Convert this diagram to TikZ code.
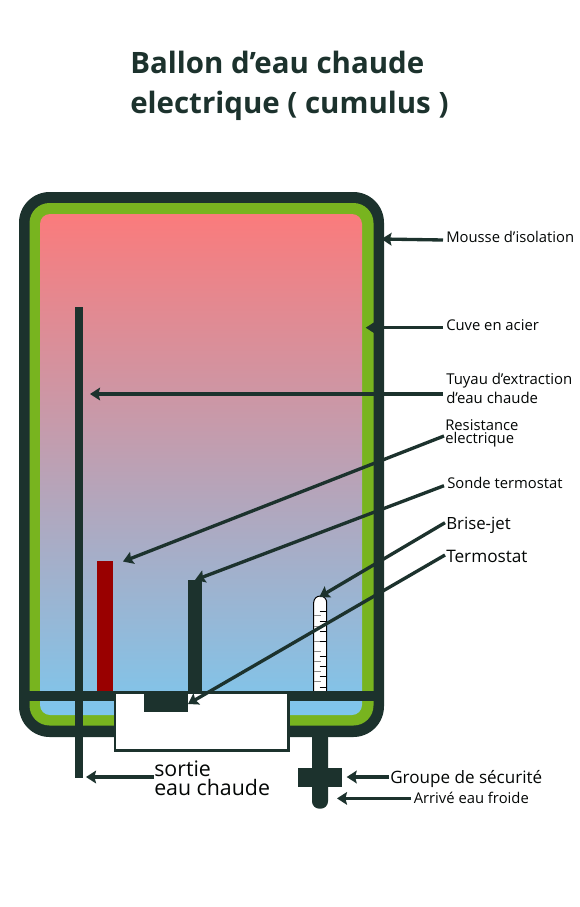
\documentclass[tikz,border=0pt]{standalone}
\usepackage{fontspec}
\setmainfont{Open Sans}
\usetikzlibrary{arrows.meta}
\definecolor{wall}{HTML}{1C322D}
\definecolor{foam}{HTML}{78B41F}
\definecolor{hot}{HTML}{FA7B7C}
\definecolor{cold}{HTML}{7EC6EC}
\definecolor{heater}{HTML}{990000}
\newcommand{\fs}[2]{\fontsize{#1}{#2}\selectfont}
\tikzset{
  x=0.75pt, y=-0.75pt,
  callout/.style={wall, line width=2.5pt, -{Stealth[length=7.5pt,width=9.5pt,inset=1.2pt]}},
  caption/.style={anchor=west, inner sep=0pt, align=left, text=black!88!wall},
  tick l/.style={draw=black!45, line width=0.75pt},
  tick r/.style={draw=black, line width=0.75pt},
}
\begin{document}
\begin{tikzpicture}
\useasboundingbox (0,0) rectangle (580,907);
\fill[white] (0,0) rectangle (580,907);

% Title
\node[caption, text=wall, font=\fs{22.1}{30}\bfseries] (title) at (130,86)
  {Ballon d’eau chaude\\electrique ( cumulus )};

% Tank shell, insulation and water body
\fill[wall, rounded corners=23pt] (19,192) rectangle (384,737);
\fill[foam, rounded corners=15pt] (29.5,203) rectangle (373.5,725.5);
\shade[top color=hot, bottom color=cold, rounded corners=7.5pt] (40,214) rectangle (362,715);

% Heating element
\fill[heater] (97.3,561) rectangle (113,692);

% Graduated jet breaker
\path[fill=white, draw=black, line width=0.75pt]
  (313.7,692) -- (313.7,602.5) arc[start angle=180, end angle=360, radius=6.5] -- (326.7,692) -- cycle;
\foreach \ty in {615.5,626,641.5,651,661,671,681.5}
  \draw[tick l] (314,\ty) -- (321,\ty);
\foreach \ty in {611,621,631,641,656,666,676,687}
  \draw[tick r] (319.5,\ty) -- (326,\ty);

% Partition and hot water pipe
\fill[wall] (29,691) rectangle (374,701);
\fill[wall] (75,307) rectangle (82.7,778);

% Cold water inlet and safety group
\fill[wall, rounded corners=5.5pt] (312,730) rectangle (328,808.7);
\fill[wall] (298,768) rectangle (342,787);

% Service box with thermostat and probe
\node[draw=wall, fill=white, line width=2pt, minimum width=130pt, minimum height=43pt,
      inner sep=0pt, outer sep=0pt] (box) at (201.5,721.5) {};
\fill[wall] (144,692) rectangle (188,712);
\fill[wall] (188,580) rectangle (202,694);

% Captions
\node[caption, font=\fs{11.1}{13}] (mousse) at (446,237) {Mousse d’isolation};
\node[caption, font=\fs{11.1}{13}] (cuve) at (446,325) {Cuve en acier};
\node[caption, font=\fs{11.2}{14}] (tuyau) at (446,388.5) {Tuyau d’extraction\\d’eau chaude};
\node[caption, font=\fs{11.1}{9.7}] (resist) at (445,433.5) {Resistance\\electrique};
\node[caption, font=\fs{11.1}{13}] (sonde) at (447,483) {Sonde termostat};
\node[caption, font=\fs{12.6}{15}] (brise) at (446,525) {Brise-jet};
\node[caption, font=\fs{12.9}{15}] (termo) at (446,556) {Termostat};
\node[caption, font=\fs{16}{14.3}] (sortie) at (154,778.5) {sortie\\eau chaude};
\node[caption, font=\fs{12.8}{15}] (groupe) at (390,779.5) {Groupe de sécurité};
\node[caption, font=\fs{11.1}{13}] (arrive) at (413.5,798) {Arrivé eau froide};

% Connector ends
\coordinate (mousseEnd) at (443,240);
\coordinate (cuveEnd) at (443,327.7);
\coordinate (tuyauEnd) at (443,394);
\coordinate (resistEnd) at (444,436);
\coordinate (sondeEnd) at (444,485.7);
\coordinate (briseEnd) at (445,522.7);
\coordinate (termoEnd) at (445,555);
\coordinate (sortieEnd) at (154,777);
\coordinate (groupeEnd) at (389,777);
\coordinate (arriveEnd) at (411,798.4);

\coordinate (shellPt) at (381.5,239);
\coordinate (tankPt) at (365.7,327.7);
\coordinate (pipePt) at (90,394);
\coordinate (heaterPt) at (123,561.5);
\coordinate (probePt) at (195,580);
\coordinate (jetPt) at (319.3,597);
\coordinate (thermoPt) at (188,704);
\coordinate (outletPt) at (86,777);
\coordinate (groupPt) at (346.7,777);
\coordinate (inletPt) at (337,798.4);

\draw[callout] (mousseEnd) -- (shellPt);
\draw[callout] (cuveEnd) -- (tankPt);
\draw[callout] (tuyauEnd) -- (pipePt);
\draw[callout] (resistEnd) -- (heaterPt);
\draw[callout] (sondeEnd) -- (probePt);
\draw[callout] (briseEnd) -- (jetPt);
\draw[callout] (termoEnd) -- (thermoPt);
\draw[callout] (sortieEnd) -- (outletPt);
\draw[callout] (groupeEnd) -- (groupPt);
\draw[callout] (arriveEnd) -- (inletPt);
\end{tikzpicture}
\end{document}
